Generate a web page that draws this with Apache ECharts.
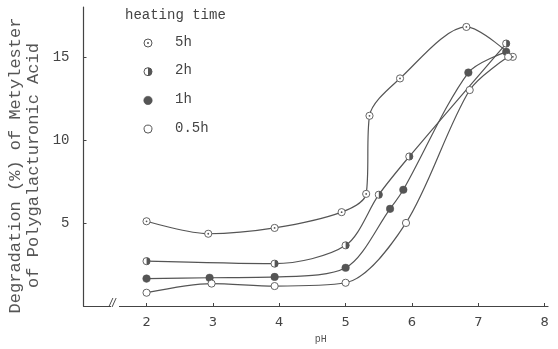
<!DOCTYPE html>
<html><head><meta charset="utf-8">
<script src="https://cdn.jsdelivr.net/npm/echarts@6/dist/echarts.min.js"></script>
<style>html,body{margin:0;padding:0;background:#fff}#c{width:558px;height:349px}</style>
</head><body><div id="c"></div>
<script>
// Data (pH, degradation %)
var ph5h   = [2.0, 2.93, 3.93, 4.94, 5.31, 5.36, 5.82, 6.82, 7.52];
var val5h  = [5.1, 4.35, 4.7, 5.65, 6.75, 11.45, 13.7, 16.8, 15.0];
var ph2h   = [2.0, 3.93, 5.0, 5.5, 5.96, 7.42];
var val2h  = [2.7, 2.55, 3.65, 6.7, 9.0, 15.8];
var ph1h   = [2.0, 2.95, 3.93, 5.0, 5.67, 5.87, 6.85, 7.42];
var val1h  = [1.65, 1.7, 1.75, 2.3, 5.85, 7.0, 14.05, 15.3];
var ph05h  = [2.0, 2.98, 3.93, 5.0, 5.91, 6.87, 7.45];
var val05h = [0.8, 1.35, 1.2, 1.4, 5.0, 13.0, 15.0];
var seriesNames = ['5h', '2h', '1h', '0.5h'];
var xTicks = [2, 3, 4, 5, 6, 7, 8];
var yTicks = [5, 10, 15];

function pairs(xs, ys){ return xs.map(function(x,i){ return [x, ys[i]]; }); }
function svg(inner){ return 'image://data:image/svg+xml;utf8,' + encodeURIComponent('<svg xmlns="http://www.w3.org/2000/svg" width="20" height="20" viewBox="0 0 20 20">' + inner + '</svg>'); }
var ring = '<circle cx="10" cy="10" r="8" fill="#fff" stroke="#555" stroke-width="2"/>';
var symbols = {
  '5h': svg(ring + '<circle cx="10" cy="10" r="2" fill="#555"/>'),
  '2h': svg(ring + '<path d="M10 2 A8 8 0 0 1 10 18 Z" fill="#555"/>'),
  '1h': svg('<circle cx="10" cy="10" r="8.5" fill="#555" stroke="#555" stroke-width="1"/>'),
  '0.5h': svg(ring)
};
var dataSets = [pairs(ph5h,val5h), pairs(ph2h,val2h), pairs(ph1h,val1h), pairs(ph05h,val05h)];

var chart = echarts.init(document.getElementById('c'));
var mono = '"Liberation Mono", "DejaVu Sans Mono", monospace';
var series = seriesNames.map(function(n, i){
  return {
    name: n, type: 'line', smooth: 0.3, data: dataSets[i],
    symbol: symbols[n], symbolSize: 9, showAllSymbol: true,
    lineStyle: {color: '#555', width: 1.2},
    itemStyle: {color: '#555'}, z: 3
  };
});
var legendGraphics = [];
legendGraphics.push({type:'text', left: 125, top: 8, style:{text:'heating time', font:'14px ' + mono, fill:'#444'}});
seriesNames.forEach(function(n, i){
  var y = 43 + i*28.7;
  legendGraphics.push({type:'image', left: 143, top: y-5, style:{image: symbols[n].slice(8), width:10, height:10}});
  legendGraphics.push({type:'text', left: 175, top: y-8, style:{text:n, font:'14px ' + mono, fill:'#444'}});
});
// axis break mark
legendGraphics.push({type:'rect', shape:{x:111,y:303,width:8,height:7}, style:{fill:'#fff'}, z:10});
legendGraphics.push({type:'text', left: 109, top: 298, z: 11, style:{text:'//', font:'italic 12px sans-serif', fill:'#444'}});

chart.setOption({
  animation: false,
  grid: {left: 83.5, right: 10, top: 7, bottom: 43, outerBoundsMode: 'none', containLabel: false},
  xAxis: {
    type: 'value', min: 1.05, max: 8.05,
    name: 'pH', nameLocation: 'middle', nameGap: 28, nameMoveOverlap: false,
    nameTextStyle: {color: '#555', fontSize: 10, fontFamily: mono, padding:[0,0,0,10]},
    axisLine: {show: true, lineStyle: {color: '#444', width: 1.2}},
    axisTick: {show: true, inside: true, length: 3, customValues: xTicks, lineStyle:{color:'#444'}},
    axisLabel: {customValues: xTicks, color: '#444', fontSize: 13, margin: 10, fontFamily: '"DejaVu Sans", sans-serif'},
    splitLine: {show: false}
  },
  yAxis: {
    type: 'value', min: 0, max: 18,
    name: 'Degradation (%) of Metylester\nof Polygalacturonic Acid',
    nameLocation: 'middle', nameGap: 41, nameRotate: 90, nameMoveOverlap: false,
    nameTextStyle: {color: '#555', fontSize: 17, fontFamily: mono, lineHeight: 18, padding:[0, 18, 0, 0]},
    axisLine: {show: true, lineStyle: {color: '#444', width: 1.2}},
    axisTick: {show: true, inside: true, length: 3, customValues: yTicks, lineStyle:{color:'#444'}},
    axisLabel: {customValues: yTicks, color: '#444', fontSize: 14, margin: 14, fontFamily: mono},
    splitLine: {show: false}
  },
  graphic: legendGraphics,
  series: series
});
</script></body></html>
